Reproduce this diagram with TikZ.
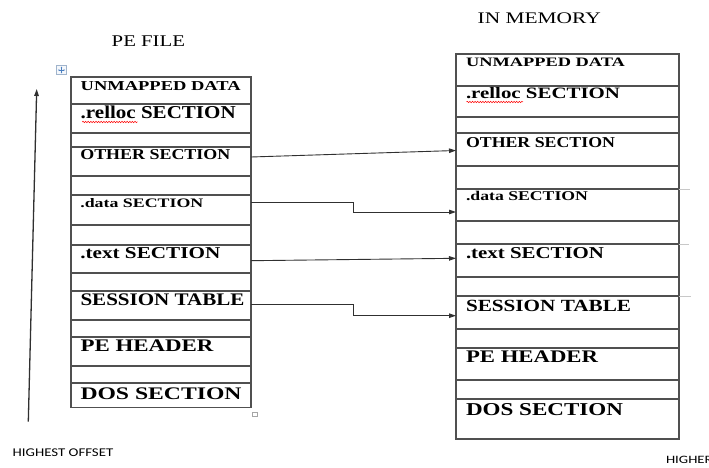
\documentclass[tikz,border=0pt]{standalone}
\usepackage{fontspec}
\setmainfont{Liberation Serif}
\newfontfamily\calfont{Carlito}
\usepackage{graphicx}
\usetikzlibrary{arrows.meta,calc,decorations.pathmorphing}
\definecolor{linec}{HTML}{505050}
\definecolor{arrc}{HTML}{303030}
\definecolor{tickc}{HTML}{C8C8C8}
\definecolor{iconb}{HTML}{A0B4CC}
\definecolor{iconf}{HTML}{F4F7FB}
\definecolor{iconc}{HTML}{4A7FC0}
\newcommand\fitbf[3]{\resizebox{#1pt}{#2pt}{\bfseries #3}}
\newcommand\fitrm[3]{\resizebox{#1pt}{#2pt}{#3}}
\newcommand\fitsf[3]{\resizebox{#1pt}{#2pt}{\calfont #3}}
\begin{document}
\begin{tikzpicture}[x=1pt,y=-1pt,
  cell/.style={draw=linec,line width=1.1pt,inner sep=0pt,outer sep=0pt,anchor=north west},
  lbl/.style={anchor=base west,inner sep=0pt,outer sep=0pt},
  arr/.style={draw=arrc,line width=0.9pt,-{Triangle[length=7pt,width=4.5pt]}},
  bigarr/.style={draw=arrc,line width=1.3pt,-{Triangle[length=7pt,width=4.5pt]}},
  squiggle/.style={draw=red,line width=0.5pt,decorate,decoration={snake,amplitude=0.7pt,segment length=2.6pt}},
  tick/.style={draw=tickc,line width=0.8pt}]
\useasboundingbox (0,0) rectangle (709,468);
\fill[white] (0,0) rectangle (709,468);

% titles
\node[lbl] (tpe) at (111.7,46.7) {\fitrm{73.3}{10.7}{PE FILE}};
\node[lbl] (tmem) at (477.7,23.3) {\fitrm{123}{10.7}{IN MEMORY}};

% left table cells
\foreach \n/\t/\b in {l1/77/104,l2/104/133,l3/133/147,l4/147/176,l5/176/195,l6/195/225,l7/225/245,
  l8/245/273,l9/273/291,l10/291/320,l11/320/337,l12/337/366,l13/366/383,l14/383/407.5}
  \node[cell,minimum width=180pt,minimum height={(\b-\t)*1pt}] (\n) at (71,\t) {};

% right table cells
\foreach \n/\t/\b in {r1/54/86,r2/86/117,r3/117/133,r4/133/166,r5/166/189,r6/189/221,r7/221/244,
  r8/244/277,r9/277/296,r10/296/329,r11/329/348,r12/348/380,r13/380/399,r14/399/439}
  \node[cell,minimum width=223pt,minimum height={(\b-\t)*1pt}] (\n) at (456,\t) {};

% left labels
\node[lbl] (tl1)  at (80.7,91)  {\fitbf{160}{9}{UNMAPPED DATA}};
\node[lbl] (tl2)  at (80.7,119) {\fitbf{155}{12.6}{.relloc SECTION}};
\node[lbl] (tl4)  at (80.3,160) {\fitbf{150}{10}{OTHER SECTION}};
\node[lbl] (tl6)  at (80.3,207) {\fitbf{123}{9}{.data SECTION}};
\node[lbl] (tl8)  at (80.3,258) {\fitbf{140}{11}{.text SECTION}};
\node[lbl] (tl10) at (80.5,305) {\fitbf{164}{11.7}{SESSION TABLE}};
\node[lbl] (tl12) at (80.5,351.5) {\fitbf{133}{11.7}{PE HEADER}};
\node[lbl] (tl14) at (80.5,399.5) {\fitbf{161}{11.7}{DOS SECTION}};

% right labels
\node[lbl] (tr1)  at (466,67)  {\fitbf{159}{8.5}{UNMAPPED DATA}};
\node[lbl] (tr2)  at (466,99)  {\fitbf{154}{11}{.relloc SECTION}};
\node[lbl] (tr4)  at (466,147) {\fitbf{149}{10}{OTHER SECTION}};
\node[lbl] (tr6)  at (466,200) {\fitbf{122}{9.3}{.data SECTION}};
\node[lbl] (tr8)  at (466,258) {\fitbf{138}{11}{.text SECTION}};
\node[lbl] (tr10) at (466,311) {\fitbf{165}{11.3}{SESSION TABLE}};
\node[lbl] (tr12) at (466,362) {\fitbf{132}{11.7}{PE HEADER}};
\node[lbl] (tr14) at (466,415) {\fitbf{157}{12}{DOS SECTION}};

% spell-check underlines
\draw[squiggle] ($(tl2.base west)+(1.5,3)$) -- ($(tl2.base west)+(57,3)$);
\draw[squiggle] ($(tr2.base west)+(0.5,3)$) -- ($(tr2.base west)+(57,3)$);

% connectors
\draw[arr] ($(l4.north east)+(0,10)$) -- ($(r4.north west)+(0,17.5)$);
\draw[arr] ($(l6.north east)+(0,7)$) -| ($(l6.north east)!0.5!(r6.north west)+(0,12)$) |- ($(r6.north west)+(0,23)$);
\draw[arr] ($(l8.north east)+(0,15.7)$) -- ($(r8.north west)+(0,14.3)$);
\draw[arr] ($(l10.north east)+(0,13)$) -| ($(l10.north east)!0.5!(r10.north west)+(0,16)$) |- ($(r10.north west)+(0,19.7)$);

% offset arrow
\coordinate (ob) at (28.3,421.7);
\coordinate (ot) at (36.7,89);
\draw[bigarr] (ob) -- (ot);
\node[lbl] (thigh) at (12.7,456) {\fitsf{100.6}{7.7}{HIGHEST OFFSET}};
\node[lbl] (thigher) at (666,463) {\fitsf{46.7}{7.3}{HIGHER}};

% faint ticks right of memory table
\draw[tick] (r6.north east) -- ++(11,0);
\draw[tick] (r8.north east) -- ++(10,0);
\draw[tick] (r10.north east) -- ++(12,0);

% table handles
\draw[draw=iconb,fill=iconf,line width=0.6pt] (56.5,65.5) rectangle (66.5,74.5);
\draw[draw=iconc,line width=0.5pt,{Latex[length=1.3pt,width=1.6pt]}-{Latex[length=1.3pt,width=1.6pt]}] (58,70) -- (65,70);
\draw[draw=iconc,line width=0.5pt,{Latex[length=1.3pt,width=1.6pt]}-{Latex[length=1.3pt,width=1.6pt]}] (61.5,66.5) -- (61.5,73.5);
\draw[draw=gray!70,fill=white,line width=0.6pt] (252.5,412.5) rectangle (257.5,416.5);
\end{tikzpicture}
\end{document}
